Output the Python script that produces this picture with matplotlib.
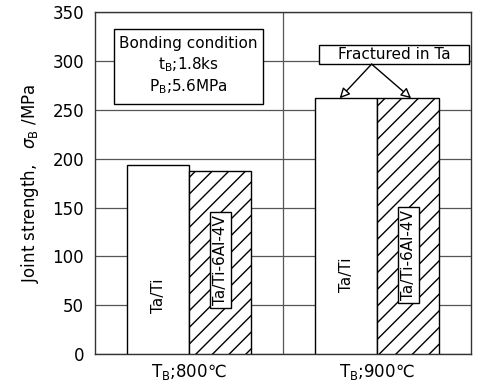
import numpy as np
import matplotlib.pyplot as plt
import matplotlib.patches as patches

groups = ['T$_\\mathregular{B}$;800\u2103', 'T$_\\mathregular{B}$;900\u2103']
ta_ti = [194, 262]
ta_ti64 = [187, 262]
yticks = [0, 50, 100, 150, 200, 250, 300, 350]

plt.rcParams['font.family'] = ['DejaVu Sans']
plt.rcParams['hatch.linewidth'] = 1.0

fig = plt.figure(figsize=(4.78, 3.88), dpi=100)
ax = fig.add_axes([0.199, 0.088, 0.787, 0.88])

x = np.array([0.5, 1.5])
w = 0.33
ax.bar(x - w / 2, ta_ti, w, color='white', edgecolor='black', linewidth=1.0, zorder=3)
ax.bar(x + w / 2, ta_ti64, w, color='white', edgecolor='black', hatch='//', linewidth=1.0, zorder=3)

ax.set_xlim(0, 2)
ax.set_ylim(0, 350)
ax.set_yticks(yticks)
ax.set_xticks(x)
ax.set_xticklabels(groups, fontsize=11)
ax.tick_params(axis='both', length=0, labelsize=12, pad=8)
ax.tick_params(axis='x', pad=6)
ax.grid(True, axis='y', color='#555555', linewidth=0.9)
ax.axvline(1.0, color='#555555', linewidth=0.9, zorder=1)
for s in ax.spines.values():
    s.set_linewidth(1.0)
    s.set_color('#333333')

ax.set_ylabel('Joint strength,   $\\sigma_\\mathregular{B}$ /MPa', fontsize=12, labelpad=8)

# labels inside bars
ax.text(x[0] - w / 2, 60, 'Ta/Ti', rotation=90, ha='center', va='center', fontsize=11, zorder=5)
ax.text(x[1] - w / 2, 81, 'Ta/Ti', rotation=90, ha='center', va='center', fontsize=11, zorder=5)
box = dict(boxstyle='square,pad=0.2', facecolor='white', edgecolor='black', linewidth=1.0)
ax.text(x[0] + w / 2, 96, 'Ta/Ti-6Al-4V', rotation=90, ha='center', va='center', fontsize=11,
        bbox=box, zorder=5)
ax.text(x[1] + w / 2, 101, 'Ta/Ti-6Al-4V', rotation=90, ha='center', va='center', fontsize=11,
        bbox=box, zorder=5)

# condition box
ax.add_patch(patches.Rectangle((0.10, 256), 0.79, 77, facecolor='white', edgecolor='black',
                               linewidth=1.0, zorder=4))
ax.text(0.495, 295, 'Bonding condition\nt$_\\mathregular{B}$;1.8ks\nP$_\\mathregular{B}$;5.6MPa',
        ha='center', va='center', fontsize=11, linespacing=1.3, zorder=5)

# fractured annotation
ax.add_patch(patches.Rectangle((1.19, 297), 0.80, 20, facecolor='white', edgecolor='black',
                               linewidth=1.0, zorder=5))
ax.text(1.59, 307, 'Fractured in Ta', ha='center', va='center', fontsize=11, zorder=6)
arrow = dict(arrowstyle='-|>,head_length=0.6,head_width=0.3', fc='white', ec='black', lw=1.0,
             shrinkA=0, shrinkB=0)
ax.annotate('', xy=(1.30, ta_ti[1]), xytext=(1.47, 297), arrowprops=arrow, zorder=6)
ax.annotate('', xy=(1.68, ta_ti64[1]), xytext=(1.47, 297), arrowprops=arrow, zorder=6)

fig.savefig('out.png', dpi=100)
